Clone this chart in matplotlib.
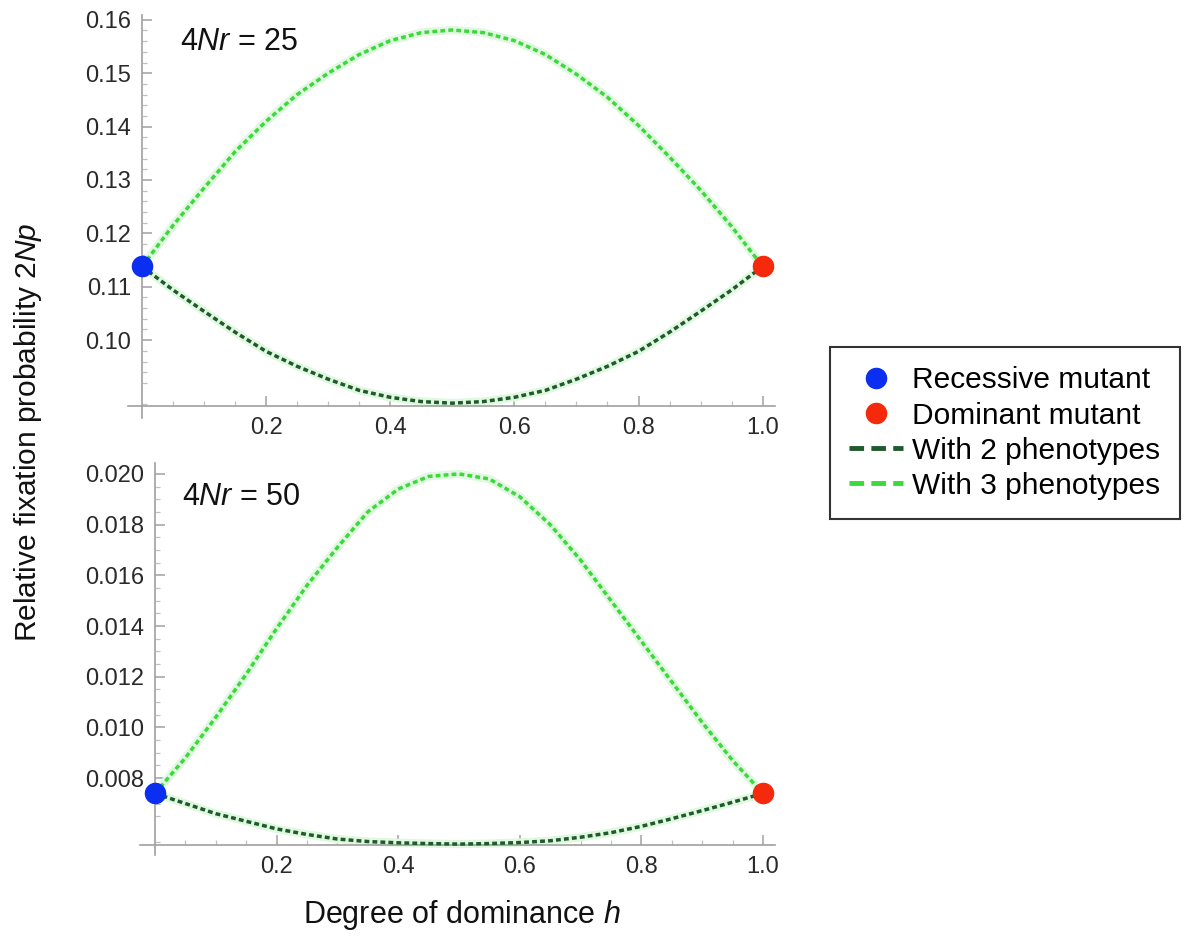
import matplotlib.pyplot as plt
from matplotlib.lines import Line2D
from matplotlib.ticker import FixedLocator, FormatStrFormatter

plt.rcParams['font.family'] = ['Liberation Sans', 'DejaVu Sans']
plt.rcParams['mathtext.fontset'] = 'custom'
plt.rcParams['mathtext.rm'] = 'Liberation Sans'
plt.rcParams['mathtext.it'] = 'Liberation Sans:italic'

# degree of dominance h
h = [0.00, 0.05, 0.10, 0.15, 0.20, 0.25, 0.30, 0.35, 0.40, 0.45, 0.50,
     0.55, 0.60, 0.65, 0.70, 0.75, 0.80, 0.85, 0.90, 0.95, 1.00]

# 4Nr = 25
top_two = [0.1138, 0.1094, 0.1054, 0.1015, 0.0979, 0.0951, 0.0927, 0.0906, 0.0893, 0.0885, 0.0882,
           0.0885, 0.0893, 0.0906, 0.0927, 0.0951, 0.0979, 0.1015, 0.1054, 0.1094, 0.1138]
top_three = [0.1138, 0.1215, 0.1285, 0.1353, 0.1410, 0.1460, 0.1500, 0.1535, 0.1561, 0.1576, 0.1581,
             0.1576, 0.1561, 0.1535, 0.1498, 0.1455, 0.1402, 0.1343, 0.1281, 0.1213, 0.1138]
top_dot = 0.1138

# 4Nr = 50
bot_two = [0.0074, 0.0070, 0.0066, 0.0063, 0.0060, 0.00578, 0.0056, 0.0055, 0.00545, 0.00542, 0.0054,
           0.00542, 0.00546, 0.00553, 0.00567, 0.00585, 0.0061, 0.0064, 0.00672, 0.00705, 0.0074]
bot_three = [0.0074, 0.0088, 0.0104, 0.0121, 0.0139, 0.0156, 0.0171, 0.0185, 0.0194, 0.0199, 0.0200,
             0.0198, 0.0191, 0.0180, 0.0166, 0.0150, 0.0134, 0.0118, 0.0102, 0.0087, 0.0074]
bot_dot = 0.0074

dark = '#1f5a2c'
light = '#3bd93b'
blue = '#0a2ff0'
red = '#f5290c'
axcol = '#a0a0a0'

fig = plt.figure(figsize=(11.84, 9.38), dpi=100)

ax1 = fig.add_axes([0.1084, 0.5548, 0.5462, 0.4292])
ax2 = fig.add_axes([0.1182, 0.0885, 0.5363, 0.4179])


def style(ax, xlim, ylim, yaxis_at, ymaj, ymin, fmt):
    ax.set_xlim(*xlim)
    ax.set_ylim(*ylim)
    for s in ['top', 'right']:
        ax.spines[s].set_visible(False)
    ax.spines['left'].set_position(('data', 0))
    ax.spines['bottom'].set_position(('data', yaxis_at))
    ax.spines['left'].set_color(axcol)
    ax.spines['bottom'].set_color(axcol)
    ax.spines['left'].set_linewidth(1.2)
    ax.spines['bottom'].set_linewidth(1.2)
    ax.xaxis.set_major_locator(FixedLocator([0.2, 0.4, 0.6, 0.8, 1.0]))
    ax.xaxis.set_minor_locator(FixedLocator([0.05, 0.1, 0.15, 0.25, 0.3, 0.35, 0.45, 0.5, 0.55,
                                             0.65, 0.7, 0.75, 0.85, 0.9, 0.95]))
    ax.xaxis.set_major_formatter(FormatStrFormatter('%.1f'))
    ax.yaxis.set_major_locator(FixedLocator(ymaj))
    ax.yaxis.set_minor_locator(FixedLocator(ymin))
    ax.yaxis.set_major_formatter(FormatStrFormatter(fmt))
    ax.tick_params(which='major', direction='in', length=7, width=1.1, color=axcol,
                   labelsize=17, labelcolor='#2a2a2a', pad=8)
    ax.tick_params(which='minor', direction='in', length=3.5, width=0.9, color='#c0c0c0')
    ax.patch.set_alpha(0)


style(ax1, (-0.022, 1.02), (0.0855, 0.1609), 0.0877,
      [0.10, 0.11, 0.12, 0.13, 0.14, 0.15, 0.16],
      [v / 1000 for v in range(88, 161, 2) if v % 10 != 0], '%.2f')
style(ax2, (-0.0247, 1.0197), (0.00497, 0.02043), 0.00536,
      [0.008, 0.010, 0.012, 0.014, 0.016, 0.018, 0.020],
      [v / 10000 for v in range(55, 205, 5) if v % 20 != 0], '%.3f')

for ax, two, three, dot, lab, pos in [
        (ax1, top_two, top_three, top_dot, r'4$\mathit{Nr}$ = 25', (0.080, 0.933)),
        (ax2, bot_two, bot_three, bot_dot, r'4$\mathit{Nr}$ = 50', (0.066, 0.913))]:
    ax.plot(h, three, color='#e0f8e0', lw=6, solid_capstyle='round', zorder=2)
    ax.plot(h, two, color='#e0f8e0', lw=6, solid_capstyle='round', zorder=2)
    ax.plot(h, three, color=light, lw=2.5, linestyle=(0, (1.4, 0.9)), zorder=3)
    ax.plot(h, two, color=dark, lw=2.5, linestyle=(0, (1.4, 0.9)), zorder=3)
    ax.plot([0], [dot], 'o', color=blue, markersize=14.5, clip_on=False, zorder=5)
    ax.plot([1], [dot], 'o', color=red, markersize=14.5, clip_on=False, zorder=5)
    ax.text(pos[0], pos[1], lab, transform=ax.transAxes, fontsize=22, va='center', ha='left',
            color='#111111')

fig.text(0.024, 0.539, r'Relative fixation probability 2$\mathit{Np}$', rotation=90,
         fontsize=21.5, ha='center', va='center', color='#111111')
fig.text(0.39, 0.0245, r'Degree of dominance $\mathit{h}$', fontsize=22,
         ha='center', va='center', color='#111111')

handles = [Line2D([], [], marker='o', color=blue, linestyle='none', markersize=14.5),
           Line2D([], [], marker='o', color=red, linestyle='none', markersize=14.5),
           Line2D([], [], color=dark, lw=3.5, linestyle=(0, (3, 1.5))),
           Line2D([], [], color=light, lw=3.5, linestyle=(0, (3, 1.5)))]
labels = ['Recessive mutant', 'Dominant mutant', 'With 2 phenotypes', 'With 3 phenotypes']
leg = fig.legend(handles, labels, loc='upper left', bbox_to_anchor=(830 / 1184, 1 - 347 / 938),
                 fontsize=21.5, frameon=True, fancybox=False, edgecolor='black',
                 handlelength=1.8, handletextpad=0.3, labelspacing=0.24, borderpad=0.65,
                 borderaxespad=0)
leg.get_frame().set_linewidth(1.5)

fig.savefig('out.png', dpi=100)
